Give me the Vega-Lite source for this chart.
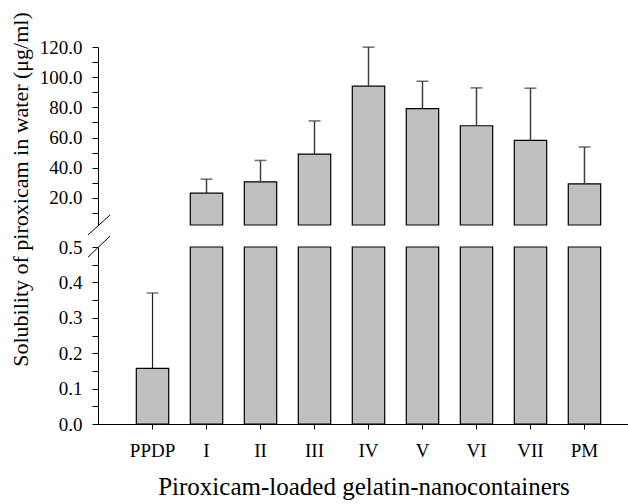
{
  "$schema": "https://vega.github.io/schema/vega-lite/v6.json",
  "padding": {"left": 8, "top": 11, "right": 0, "bottom": 5},
  "background": "white",
  "spacing": 22,
  "bounds": "flush",
  "config": {
    "view": {"stroke": null},
    "font": "Liberation Serif",
    "axis": {
      "grid": false,
      "domainColor": "black",
      "tickColor": "black",
      "labelColor": "black",
      "titleColor": "black",
      "labelFont": "Liberation Serif",
      "titleFont": "Liberation Serif",
      "labelFontSize": 19,
      "titleFontSize": 22,
      "titleFontWeight": "normal",
      "labelOverlap": false,
      "labelFlush": false,
      "domainWidth": 1,
      "tickWidth": 1
    }
  },
  "data": {
    "values": [
      {"group": "PPDP", "value": 0.157, "upper": 0.37},
      {"group": "I", "value": 23.1, "upper": 32.4},
      {"group": "II", "value": 30.6, "upper": 44.8},
      {"group": "III", "value": 49.0, "upper": 71.0},
      {"group": "IV", "value": 94.0, "upper": 119.9},
      {"group": "V", "value": 79.1, "upper": 97.3},
      {"group": "VI", "value": 67.8, "upper": 92.9},
      {"group": "VII", "value": 58.1, "upper": 92.7},
      {"group": "PM", "value": 29.3, "upper": 53.7}
    ]
  },
  "vconcat": [
    {
      "width": 531,
      "height": 178,
      "layer": [
        {
          "transform": [{"filter": "datum.value > 2"}],
          "mark": {"type": "bar", "fill": "#c0c0c0", "stroke": "black", "strokeWidth": 1.2},
          "encoding": {
            "x": {"field": "group", "type": "nominal", "sort": null,
                  "scale": {"domain": ["PPDP","I","II","III","IV","V","VI","VII","PM"], "paddingInner": 0.4, "paddingOuter": 0.617, "align": 0.575},
                  "axis": null},
            "y": {"field": "value", "type": "quantitative",
                  "scale": {"domain": [2, 120], "zero": false, "nice": false},
                  "axis": {
                    "title": null,
                    "values": [10,20,30,40,50,60,70,80,90,100,110,120],
                    "tickCount": 50,
                    "labelExpr": "datum.value % 20 == 0 ? format(datum.value, '.1f') : ''",
                    "tickSize": 6,
                    "labelPadding": 10
                  }},
            "y2": {"datum": 2}
          }
        },
        {
          "transform": [{"filter": "datum.value > 2"}],
          "mark": {"type": "rule", "color": "#404040", "strokeWidth": 1.5},
          "encoding": {
            "x": {"field": "group", "type": "nominal", "sort": null},
            "y": {"field": "value", "type": "quantitative"},
            "y2": {"field": "upper"}
          }
        },
        {
          "transform": [{"filter": "datum.value > 2"}],
          "mark": {"type": "tick", "color": "#303030", "size": 12, "thickness": 1.5},
          "encoding": {
            "x": {"field": "group", "type": "nominal", "sort": null},
            "y": {"field": "upper", "type": "quantitative"}
          }
        },
        {
          "data": {"values": [{}]},
          "mark": {"type": "rule", "color": "black", "strokeWidth": 1, "clip": false},
          "encoding": {
            "x": {"value": -10},
            "x2": {"value": 12},
            "y": {"datum": -4.6},
            "y2": {"datum": 8.6}
          }
        },
        {
          "data": {"values": [{}]},
          "mark": {"type": "rule", "color": "black", "strokeWidth": 1, "clip": false},
          "encoding": {
            "x": {"value": -10},
            "x2": {"value": 12},
            "y": {"datum": -19.3},
            "y2": {"datum": -5.3}
          }
        }
      ]
    },
    {
      "width": 531,
      "height": 177,
      "layer": [
        {
          "mark": {"type": "bar", "fill": "#c0c0c0", "stroke": "black", "strokeWidth": 1.2},
          "encoding": {
            "x": {"field": "group", "type": "nominal", "sort": null,
                  "scale": {"domain": ["PPDP","I","II","III","IV","V","VI","VII","PM"], "paddingInner": 0.4, "paddingOuter": 0.617, "align": 0.575},
                  "axis": {"title": "Piroxicam-loaded gelatin-nanocontainers", "labelAngle": 0, "tickSize": 5, "labelPadding": 12, "labelFontSize": 19, "titlePadding": 14, "titleFontSize": 25}},
            "y": {"field": "value", "type": "quantitative",
                  "scale": {"domain": [0, 0.5], "nice": false, "clamp": true},
                  "axis": {
                    "title": "Solubility of piroxicam in water (μg/ml)",
                    "titleX": -66,
                    "titleY": -58,
                    "values": [0,0.05,0.1,0.15,0.2,0.25,0.3,0.35,0.4,0.45,0.5],
                    "tickCount": 50,
                    "labelExpr": "round(datum.value*100) % 10 == 0 ? format(datum.value, '.1f') : ''",
                    "tickSize": 6,
                    "labelPadding": 10
                  }}
          }
        },
        {
          "transform": [{"filter": "datum.value < 0.5"}],
          "mark": {"type": "rule", "color": "#202020", "strokeWidth": 1.2},
          "encoding": {
            "x": {"field": "group", "type": "nominal", "sort": null},
            "y": {"field": "value", "type": "quantitative"},
            "y2": {"field": "upper"}
          }
        },
        {
          "transform": [{"filter": "datum.value < 0.5"}],
          "mark": {"type": "tick", "color": "#202020", "size": 12, "thickness": 1.3},
          "encoding": {
            "x": {"field": "group", "type": "nominal", "sort": null},
            "y": {"field": "upper", "type": "quantitative"}
          }
        }
      ]
    }
  ]
}
